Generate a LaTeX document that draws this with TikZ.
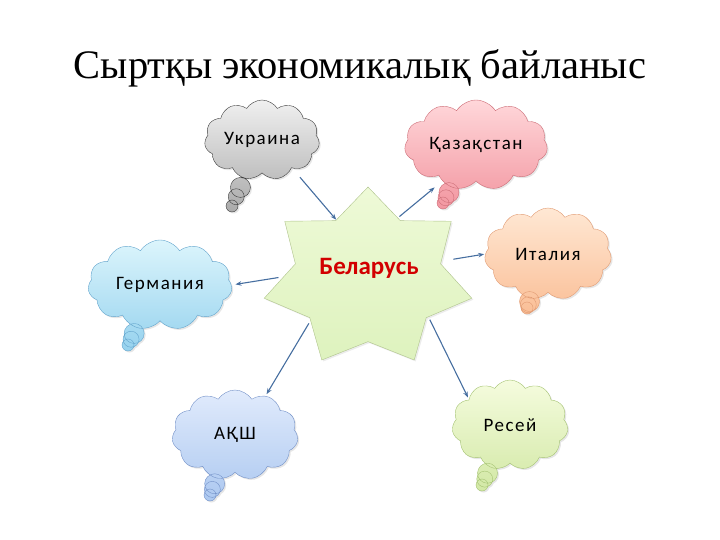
\documentclass[tikz,border=0pt]{standalone}
\usepackage{fontspec}
\setmainfont{Liberation Serif}
\newfontfamily\lblfont[LetterSpace=8]{Carlito}
\newfontfamily\starfont{Carlito}
\usetikzlibrary{shapes.geometric,shapes.callouts,shadows,arrows.meta}
\definecolor{linkblue}{RGB}{70,110,160}
\definecolor{belred}{RGB}{210,0,0}

\begin{document}
\begin{tikzpicture}[x=1pt,y=1pt]
\tikzstyle{bubble}=[cloud callout,draw,cloud puffs=11,cloud puff arc=115,cloud ignores aspect,inner sep=0pt,callout pointer segments=3,callout pointer start size=28pt and 24pt,callout pointer end size=14pt and 12pt,font=\lblfont\fontsize{19}{22}\selectfont,drop shadow={shadow xshift=1.5pt,shadow yshift=-1.5pt,opacity=0.2}]
\tikzstyle{starbox}=[star,star points=7,star point ratio=1.43,minimum size=182pt,inner sep=0pt,xscale=1.17,draw={rgb,255:red,175;green,195;blue,140},top color={rgb,255:red,238;green,250;blue,215},bottom color={rgb,255:red,222;green,242;blue,190},drop shadow={shadow xshift=1.5pt,shadow yshift=-1.5pt,opacity=0.15}]
\tikzstyle{link}=[draw=linkblue,line width=1.1pt,-{Stealth[length=6pt,width=4.5pt]}]
\useasboundingbox (0,0) rectangle (720,-540);
\node[font=\fontsize{40.5}{48}\selectfont] (title) at (360,-68) {Сыртқы экономикалық байланыс};
\node[starbox] (bel) at (368,-278) {};
\node[font=\starfont\bfseries\fontsize{25}{29}\selectfont,text=belred] (beltxt) at (369,-268) {Беларусь};
\node[bubble,minimum width=115pt,minimum height=80pt,callout absolute pointer={(232,-206)},draw={rgb,255:red,60;green,60;blue,60},top color={rgb,255:red,240;green,240;blue,240},bottom color={rgb,255:red,170;green,170;blue,170}] (ukr) at (262,-140) {Украина};
\node[bubble,minimum width=143pt,minimum height=90pt,callout absolute pointer={(443,-203)},draw={rgb,255:red,205;green,110;blue,120},top color={rgb,255:red,255;green,215;blue,218},bottom color={rgb,255:red,242;green,150;blue,160}] (kaz) at (476,-145) {Қазақстан};
\node[bubble,minimum width=144pt,minimum height=90pt,callout absolute pointer={(128,-345)},draw={rgb,255:red,100;green,165;blue,205},top color={rgb,255:red,220;green,245;blue,252},bottom color={rgb,255:red,150;green,210;blue,238}] (ger) at (160,-285) {Германия};
\node[bubble,minimum width=127pt,minimum height=92pt,callout absolute pointer={(527,-308)},draw={rgb,255:red,225;green,155;blue,115},top color={rgb,255:red,255;green,232;blue,212},bottom color={rgb,255:red,250;green,190;blue,150}] (ita) at (548,-254) {Италия};
\node[bubble,minimum width=126pt,minimum height=90pt,callout absolute pointer={(210,-495)},draw={rgb,255:red,115;green,145;blue,200},top color={rgb,255:red,225;green,235;blue,252},bottom color={rgb,255:red,172;green,200;blue,240}] (aksh) at (235,-435) {АҚШ};
\node[bubble,minimum width=116pt,minimum height=90pt,callout absolute pointer={(482,-485)},draw={rgb,255:red,165;green,195;blue,115},top color={rgb,255:red,245;green,252;blue,222},bottom color={rgb,255:red,210;green,232;blue,165}] (res) at (510,-425) {Ресей};
\draw[link,shorten <=12pt] (ukr.-43) -- (bel.115);
\draw[link,shorten <=2pt,shorten >=10pt] (bel.67) -- (kaz.227);
\draw[link,shorten <=5pt,shorten >=4pt] (bel.179) -- (ger.east);
\draw[link,shorten <=12pt,shorten >=1pt] (bel.15) -- (ita.west);
\draw[link,shorten <=3pt,shorten >=2pt] (bel.221) -- (aksh.52);
\draw[link,shorten <=3pt,shorten >=2pt] (bel.-37) -- (res.148);
\end{tikzpicture}
\end{document}
